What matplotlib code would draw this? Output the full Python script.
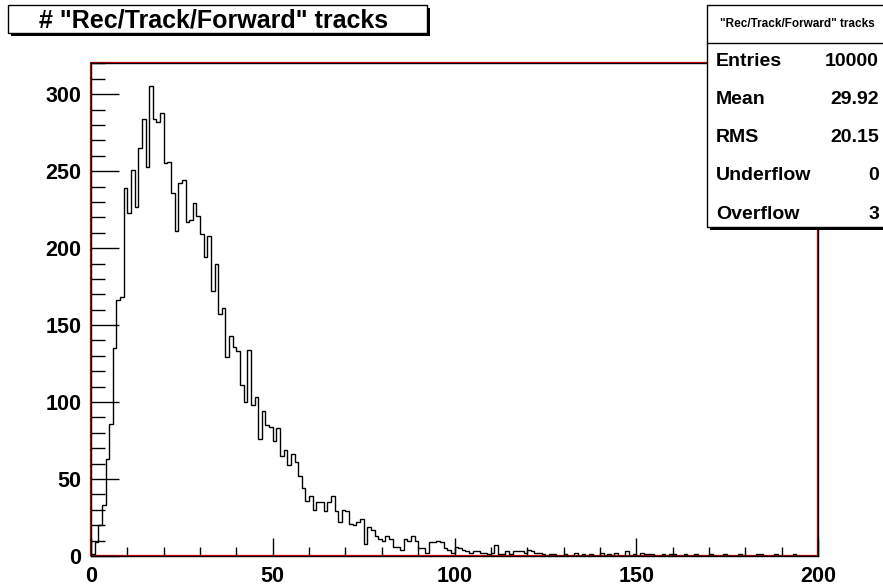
import matplotlib
matplotlib.use('Agg')
import matplotlib.pyplot as plt
from matplotlib.patches import Rectangle
from matplotlib.lines import Line2D
from matplotlib.ticker import MultipleLocator
from matplotlib.transforms import ScaledTranslation
import numpy as np

# histogram contents, 200 bins of width 1 from 0 to 200
counts = [
    1, 9, 20, 33, 63, 86, 135, 166, 168, 239,
    223, 251, 227, 265, 284, 253, 305, 284, 282, 288,
    255, 256, 236, 211, 242, 244, 217, 218, 229, 221,
    209, 194, 208, 172, 190, 157, 161, 129, 143, 136,
    133, 111, 100, 134, 98, 103, 76, 94, 85, 84,
    75, 83, 65, 69, 59, 66, 61, 52, 44, 36,
    39, 30, 35, 35, 29, 35, 39, 29, 22, 30,
    29, 21, 20, 22, 24, 8, 19, 17, 13, 11,
    10, 13, 11, 6, 6, 4, 11, 10, 13, 10,
    5, 5, 2, 9, 9, 10, 9, 5, 4, 2,
    6, 5, 4, 3, 2, 3, 3, 2, 2, 1,
    2, 7, 1, 1, 3, 1, 3, 3, 3, 2,
    4, 3, 2, 2, 1, 0, 1, 1, 0, 0,
    1, 0, 0, 2, 0, 1, 0, 1, 0, 0,
    2, 0, 1, 0, 2, 0, 0, 3, 0, 1,
    0, 2, 1, 1, 1, 0, 0, 1, 0, 1,
    1, 0, 0, 1, 0, 0, 1, 0, 0, 0,
    1, 0, 0, 0, 1, 0, 0, 0, 1, 0,
    0, 0, 0, 1, 1, 0, 0, 0, 1, 0,
    0, 0, 0, 1, 0, 0, 0, 0, 0, 0,
]
x_min, x_max = 0, 200
edges = np.linspace(x_min, x_max, len(counts) + 1)

title = '# "Rec/Track/Forward" tracks'
stats_name = '"Rec/Track/Forward" tracks'
stats_labels = ['Entries', 'Mean', 'RMS', 'Underflow', 'Overflow']
stats_values = ['10000', '29.92', '20.15', '0', '3']

plt.rcParams['font.family'] = ['Liberation Sans', 'DejaVu Sans']
plt.rcParams['font.weight'] = 'bold'

W, H = 883, 587
fig = plt.figure(figsize=(W / 100, H / 100), dpi=100)


def fx(px):
    return px / W


def fy(py):
    return 1 - py / H


ax = fig.add_axes([fx(91), fy(556), fx(818) - fx(91), fy(63) - fy(556)])
ax.stairs(counts, edges, color='black', lw=1)
ax.set_xlim(x_min, x_max)
ax.set_ylim(0, 1.05 * max(counts))

ax.xaxis.set_major_locator(MultipleLocator(50))
ax.xaxis.set_minor_locator(MultipleLocator(10))
ax.yaxis.set_major_locator(MultipleLocator(50))
ax.yaxis.set_minor_locator(MultipleLocator(10))
ax.tick_params(axis='both', which='both', direction='in', top=False, right=False,
               color='black', width=1, labelsize=15.5)
ax.tick_params(axis='y', which='major', length=20, pad=7)
ax.tick_params(axis='y', which='minor', length=10)
ax.tick_params(axis='x', which='major', length=13, pad=7)
ax.tick_params(axis='x', which='minor', length=6.5)
for lab in ax.get_xticklabels() + ax.get_yticklabels():
    lab.set_fontweight('bold')
for sp in ax.spines.values():
    sp.set_color('black')
    sp.set_linewidth(1)

# red frame drawn slightly shifted, like the ROOT pad frame
shift = ax.transAxes + ScaledTranslation(-1 / 100, 1 / 100, fig.dpi_scale_trans)
ax.add_patch(Rectangle((0, 0), 1, 1, transform=shift, fill=False, ec='#e00000',
                       lw=0.9, clip_on=False, zorder=0.5))


def box(x0, y0, x1, y1, sh=3):
    fig.patches.append(Rectangle((fx(x0 + sh), fy(y1 + sh)), fx(x1) - fx(x0),
                                 fy(y0) - fy(y1), transform=fig.transFigure,
                                 fc='black', ec='none', zorder=1))
    fig.patches.append(Rectangle((fx(x0), fy(y1)), fx(x1) - fx(x0),
                                 fy(y0) - fy(y1), transform=fig.transFigure,
                                 fc='white', ec='black', lw=1, zorder=2))


# title box
box(8, 5, 427, 33)
fig.text(fx(214), fy(20), title, ha='center', va='center', fontsize=18,
         fontweight='bold', zorder=3)

# stats box
box(707, 5, 886, 227)
fig.add_artist(Line2D([fx(707), fx(883)], [fy(43), fy(43)], color='black', lw=1,
                      transform=fig.transFigure, zorder=3))
fig.text(fx(797), fy(24), stats_name, ha='center', va='center', fontsize=8.5,
         fontweight='bold', zorder=3)
for i, (lab, val) in enumerate(zip(stats_labels, stats_values)):
    yy = fy(62 + 38 * i)
    fig.text(fx(716), yy, lab, ha='left', va='center', fontsize=14,
             fontweight='bold', zorder=3)
    fig.text(fx(879), yy, val, ha='right', va='center', fontsize=14,
             fontweight='bold', zorder=3)

fig.savefig('out.png', dpi=100)
